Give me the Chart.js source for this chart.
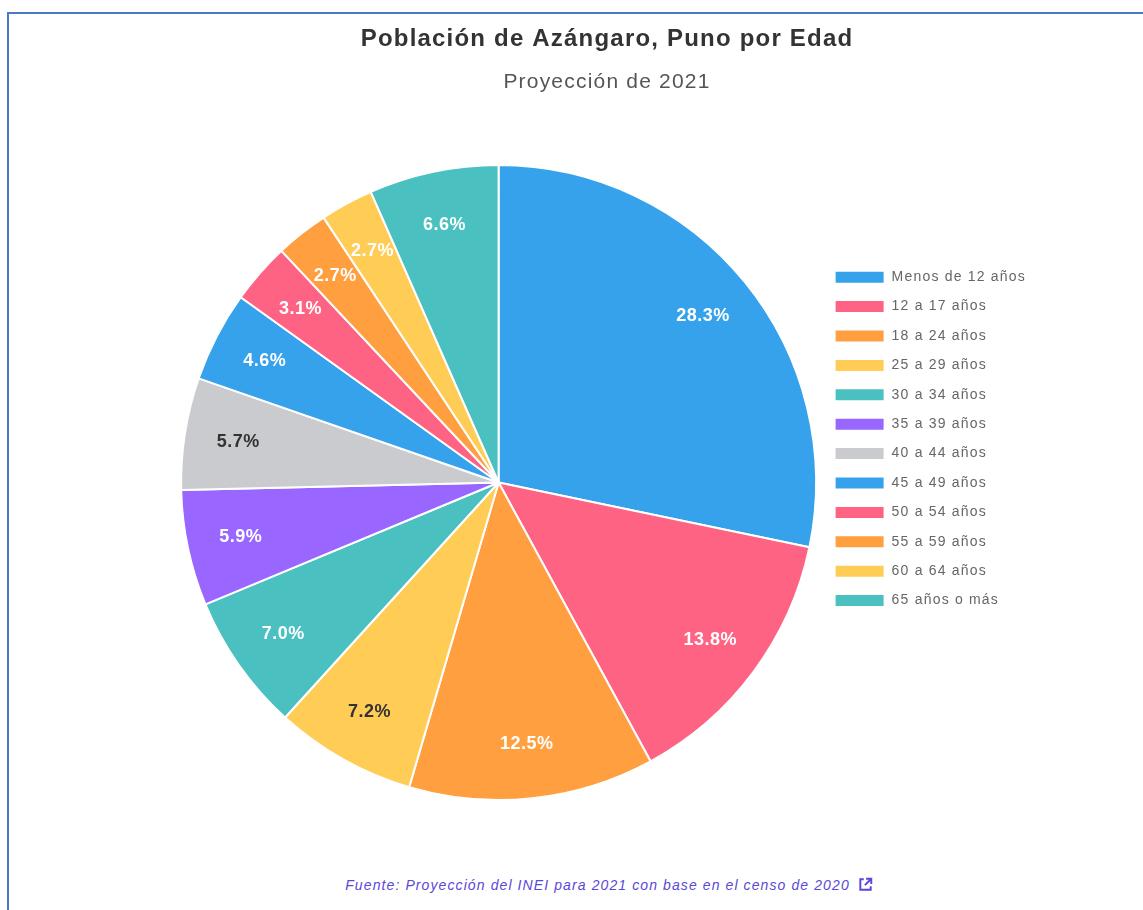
<!DOCTYPE html>
<html>
<head>
<meta charset="utf-8">
<script src="https://cdn.jsdelivr.net/npm/chart.js@4"></script>
<style>
  html, body { margin: 0; padding: 0; background: #fff; }
  body { width: 1143px; height: 910px; position: relative; overflow: hidden; font-family: "Liberation Sans", Arial, sans-serif; }
  .frame { position: absolute; left: 7px; top: 12px; width: 1136px; height: 898px; border-left: 2px solid #4a78c8; border-top: 2px solid #4a78c8; }
  .box { position: absolute; left: 2px; top: 2px; width: 1132px; height: 850px; }
  .source { position: absolute; left: 0; width: 1200px; top: 863px; text-align: center; font-size: 14px; letter-spacing: 1.1px; font-style: italic; color: #5a48d8; }
  .source svg { vertical-align: -2px; margin-left: 8px; }
</style>
</head>
<body>
<div class="frame">
  <div class="box"><canvas id="pieChart"></canvas></div>
  <div class="source">Fuente: Proyección del INEI para 2021 con base en el censo de 2020<svg width="15" height="15" viewBox="0 0 13 13"><path d="M5 2H2v9h9V8" fill="none" stroke="#5a48d8" stroke-width="1.7"/><path d="M7 1.5h4.5V6M11.5 1.5L6 7" fill="none" stroke="#5a48d8" stroke-width="1.7"/></svg></div>
</div>
<script>
// Age groups
const ageGroups = [
  "Menos de 12 años", "12 a 17 años", "18 a 24 años", "25 a 29 años",
  "30 a 34 años", "35 a 39 años", "40 a 44 años", "45 a 49 años",
  "50 a 54 años", "55 a 59 años", "60 a 64 años", "65 años o más"
];

// Share of population (%)
const shares = [28.3, 13.8, 12.5, 7.2, 7.0, 5.9, 5.7, 4.6, 3.1, 2.7, 2.7, 6.6];

// Slice colours
const sliceColors = [
  "#36A2EB", "#FF6384", "#FF9F40", "#FFCD56", "#4BC0C0", "#9966FF",
  "#C9CBCF", "#36A2EB", "#FF6384", "#FF9F40", "#FFCD56", "#4BC0C0"
];

// Slices whose label is written in dark text
const darkLabels = [3, 6];

// Wider letter spacing for title and legend text (set before layout so it is measured too)
const spacing = {
  id: "spacing",
  beforeLayout(chart) { chart.ctx.letterSpacing = "1.2px"; },
  beforeDraw(chart) { chart.ctx.letterSpacing = "1.2px"; }
};

// Draw the percentage on each slice
const sliceLabels = {
  id: "sliceLabels",
  afterDatasetsDraw(chart) {
    const ctx = chart.ctx;
    const meta = chart.getDatasetMeta(0);
    ctx.save();
    ctx.letterSpacing = "0.5px";
    ctx.font = "bold 18px 'Liberation Sans', Arial, sans-serif";
    ctx.textAlign = "center";
    ctx.textBaseline = "middle";
    meta.data.forEach((arc, i) => {
      const p = arc.getProps(["x", "y", "startAngle", "endAngle", "outerRadius"], true);
      const mid = (p.startAngle + p.endAngle) / 2;
      const r = p.outerRadius * 0.83;
      ctx.fillStyle = darkLabels.includes(i) ? "#333" : "#fff";
      ctx.fillText(shares[i].toFixed(1) + "%", p.x + Math.cos(mid) * r, p.y + Math.sin(mid) * r);
    });
    ctx.restore();
  }
};

const pieChart = new Chart(document.getElementById("pieChart"), {
  type: "pie",
  data: {
    labels: ageGroups,
    datasets: [{
      data: shares,
      backgroundColor: sliceColors,
      borderColor: "#fff",
      borderWidth: 2
    }]
  },
  options: {
    responsive: true,
    maintainAspectRatio: false,
    animation: false,
    layout: {
      padding: { left: 167, right: 107, bottom: 65 }
    },
    plugins: {
      title: {
        display: true,
        text: "Población de Azángaro, Puno por Edad",
        color: "#333",
        font: { size: 24, weight: "bold", family: "'Liberation Sans', Arial, sans-serif" },
        padding: { top: 9, bottom: 16 }
      },
      subtitle: {
        display: true,
        text: "Proyección de 2021",
        color: "#555",
        font: { size: 21, family: "'Liberation Sans', Arial, sans-serif" },
        padding: { bottom: 69 }
      },
      legend: {
        position: "right",
        title: {
          display: true,
          text: " ",
          font: { size: 14 },
          padding: 22
        },
        labels: {
          boxWidth: 50,
          boxHeight: 13,
          color: "#666",
          padding: 15.4,
          font: { size: 14, family: "'Liberation Sans', Arial, sans-serif" }
        }
      },
      tooltip: { enabled: false }
    }
  },
  plugins: [spacing, sliceLabels]
});
</script>
</body>
</html>
